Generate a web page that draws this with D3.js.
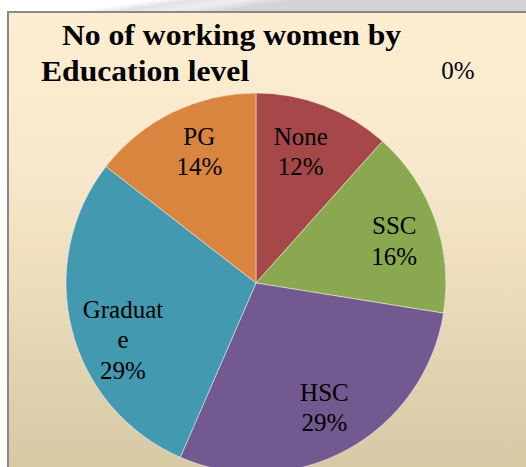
<!DOCTYPE html>
<html lang="en">
<head>
    <meta charset="UTF-8">
    <title>No of working women by Education level</title>
    <style>
        html, body {
            margin: 0;
            padding: 0;
            background: #ffffff;
        }
        svg {
            display: block;
        }
        text {
            font-family: "Liberation Serif", "Times New Roman", serif;
        }
    </style>
</head>
<body>
<svg id="chart"></svg>
<script src="https://cdnjs.cloudflare.com/ajax/libs/d3/7.8.5/d3.min.js"></script>
<script>
    "use strict"

    // data (counts, pie starts at 12 o'clock)
    const categories = ["None", "SSC", "HSC", "Graduate", "PG", ""];
    const counts = [8, 11, 20, 20, 10, 0];
    const sliceColors = ["#a6474a", "#8aa84f", "#72598f", "#4399b0", "#da853f", "#c0c0c0"];
    // how Excel wrapped the category names in the labels
    const nameLines = [["None"], ["SSC"], ["HSC"], ["Graduat", "e"], ["PG"], []];
    const titleLines = ["No of working women by", "Education level"];

    const W = 526, H = 467;
    const svg = d3.select("#chart").attr("width", W).attr("height", H);
    const defs = svg.append("defs");

    /* page shadow strip above the chart */
    const stripGrad = defs.append("linearGradient")
        .attr("id", "strip").attr("x1", 0).attr("y1", 0).attr("x2", 1).attr("y2", 0.15);
    stripGrad.append("stop").attr("offset", "0.28").attr("stop-color", "#ffffff");
    stripGrad.append("stop").attr("offset", "0.36").attr("stop-color", "#e2e2e2");
    stripGrad.append("stop").attr("offset", "0.45").attr("stop-color", "#eeeeee");
    stripGrad.append("stop").attr("offset", "0.55").attr("stop-color", "#d4d4d4");
    stripGrad.append("stop").attr("offset", "1").attr("stop-color", "#d4d4d4");
    svg.append("rect").attr("x", 0).attr("y", 0).attr("width", W).attr("height", 12)
        .attr("fill", "url(#strip)");

    /* chart area */
    const bgGrad = defs.append("linearGradient")
        .attr("id", "bg").attr("x1", 0).attr("y1", 0).attr("x2", 0).attr("y2", 1);
    bgGrad.append("stop").attr("offset", "0").attr("stop-color", "#fdedd1");
    bgGrad.append("stop").attr("offset", "0.35").attr("stop-color", "#f8e8cb");
    bgGrad.append("stop").attr("offset", "1").attr("stop-color", "#d5c8a3");
    svg.append("rect")
        .attr("x", 8).attr("y", 12).attr("width", W).attr("height", H)
        .attr("fill", "url(#bg)")
        .attr("stroke", "#898989").attr("stroke-width", 2);

    /* title, the original is stretched a bit sideways */
    svg.append("text")
        .attr("transform", "translate(62,45) scale(1.11,1)")
        .attr("font-size", "28.5px").attr("font-weight", "bold").attr("fill", "#000")
        .text(titleLines[0]);
    svg.append("text")
        .attr("transform", "translate(41,81) scale(1.11,1)")
        .attr("font-size", "28.5px").attr("font-weight", "bold").attr("fill", "#000")
        .text(titleLines[1]);

    /* pie */
    const cx = 256, cy = 283, radius = 190;
    const total = d3.sum(counts);
    const pie = d3.pie().sort(null).value(d => d.v);
    const arcs = pie(categories.map((c, i) => ({name: c, v: counts[i], i: i})));
    const arc = d3.arc().innerRadius(0).outerRadius(radius);
    const labelArc = d3.arc().innerRadius(radius * 0.75).outerRadius(radius * 0.75);

    const g = svg.append("g").attr("transform", `translate(${cx},${cy})`);
    g.selectAll("path")
        .data(arcs.filter(d => d.data.v > 0))
        .enter()
        .append("path")
        .attr("d", arc)
        .attr("fill", d => sliceColors[d.data.i])
        .attr("stroke", "rgba(255,255,255,0.45)")
        .attr("stroke-width", 1);

    // small nudges where Excel's best-fit placement moved a label
    const nudge = {None: [-6, 2], PG: [6, -3], SSC: [4, 6], Graduate: [5, 22]};
    const lineGap = 30.5;

    arcs.forEach(d => {
        const pct = Math.round(d.data.v / total * 100) + "%";
        const lines = nameLines[d.data.i].concat([pct]);
        let px, py;
        if (d.data.v > 0) {
            const c = labelArc.centroid(d);
            const n = nudge[d.data.name] || [0, 0];
            px = c[0] + n[0];
            py = c[1] + n[1];
        } else {
            // the empty category's label sits up in the top right corner
            px = 202;
            py = -212;
        }
        const t = g.append("text")
            .attr("text-anchor", "middle")
            .attr("font-size", "25px")
            .attr("fill", "#000");
        const first = py - (lines.length - 1) * lineGap / 2 + 8;
        lines.forEach((s, k) => {
            t.append("tspan")
                .attr("x", px)
                .attr("y", first + k * lineGap)
                .text(s);
        });
    });
</script>
</body>
</html>
